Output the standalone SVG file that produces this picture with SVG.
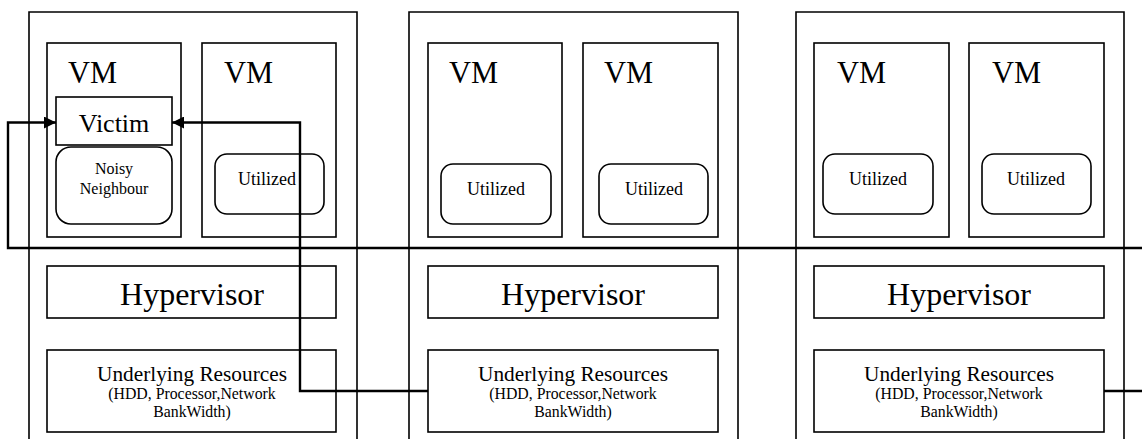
<svg xmlns="http://www.w3.org/2000/svg" width="1142" height="439" viewBox="0 0 1142 439">
<style>
.box{fill:none;stroke:#000;stroke-width:1.6}
.outer{fill:none;stroke:#000;stroke-width:1.6}
.rbox{fill:none;stroke:#000;stroke-width:1.6}
.conn{fill:none;stroke:#000;stroke-width:2.4}
text{font-family:"Liberation Serif","Times New Roman",serif;fill:#000}
.vm{font-size:30.5px}
.hyp{font-size:32px;text-anchor:middle}
.ur{font-size:21.3px;text-anchor:middle}
.urs{font-size:15.8px;text-anchor:middle}
.ut{font-size:18px;text-anchor:middle}
.vic{font-size:26px;text-anchor:middle}
.noisy{font-size:16px;text-anchor:middle}
</style>
<defs>
<marker id="ah" viewBox="0 0 10 10" refX="10" refY="5" markerWidth="15" markerHeight="12" markerUnits="userSpaceOnUse" orient="auto">
<path d="M0,0 L10,5 L0,10 z" fill="#000"/>
</marker>
</defs>
<rect width="1142" height="439" fill="#fff"/>

<g id="host1">
<path class="outer" d="M29,439 V12 H357 V439"/>
<g id="host1-vm1">
<rect class="box" x="47" y="43" width="134" height="194"/>
<text class="vm" x="68" y="83">VM</text>
</g>
<g id="host1-victim">
<rect class="box" x="56" y="97" width="116" height="48"/>
<text class="vic" x="114" y="132">Victim</text>
</g>
<g id="host1-noisy">
<rect class="rbox" x="56" y="147" width="116" height="77" rx="15"/>
<text class="noisy" x="114" y="174">Noisy</text>
<text class="noisy" x="114" y="194">Neighbour</text>
</g>
<g id="host1-vm2">
<rect class="box" x="202" y="43" width="134" height="194"/>
<text class="vm" x="224" y="83">VM</text>
<rect class="rbox" x="215" y="154" width="109" height="60" rx="12"/>
<text class="ut" x="267" y="185">Utilized</text>
</g>
<g id="host1-hyp">
<rect class="box" x="47" y="266" width="289" height="52"/>
<text class="hyp" x="192" y="305">Hypervisor</text>
</g>
<g id="host1-res">
<rect class="box" x="47" y="350" width="289" height="82"/>
<text class="ur" x="192" y="381">Underlying Resources</text>
<text class="urs" x="192" y="399">(HDD, Processor,Network</text>
<text class="urs" x="192" y="417">BankWidth)</text>
</g>
</g>

<g id="host2">
<path class="outer" d="M409,439 V12 H738 V439"/>
<g id="host2-vm1">
<rect class="box" x="428" y="43" width="134" height="194"/>
<text class="vm" x="449" y="83">VM</text>
<rect class="rbox" x="441" y="164" width="110" height="60" rx="12"/>
<text class="ut" x="496" y="195">Utilized</text>
</g>
<g id="host2-vm2">
<rect class="box" x="583" y="43" width="135" height="194"/>
<text class="vm" x="604" y="83">VM</text>
<rect class="rbox" x="599" y="164" width="109" height="60" rx="12"/>
<text class="ut" x="654" y="195">Utilized</text>
</g>
<g id="host2-hyp">
<rect class="box" x="428" y="266" width="290" height="52"/>
<text class="hyp" x="573" y="305">Hypervisor</text>
</g>
<g id="host2-res">
<rect class="box" x="428" y="350" width="290" height="82"/>
<text class="ur" x="573" y="381">Underlying Resources</text>
<text class="urs" x="573" y="399">(HDD, Processor,Network</text>
<text class="urs" x="573" y="417">BankWidth)</text>
</g>
</g>

<g id="host3">
<path class="outer" d="M796,439 V12 H1124 V439"/>
<g id="host3-vm1">
<rect class="box" x="814" y="43" width="135" height="194"/>
<text class="vm" x="837" y="83">VM</text>
<rect class="rbox" x="823" y="154" width="110" height="60" rx="12"/>
<text class="ut" x="878" y="185">Utilized</text>
</g>
<g id="host3-vm2">
<rect class="box" x="969" y="43" width="135" height="194"/>
<text class="vm" x="992" y="83">VM</text>
<rect class="rbox" x="982" y="154" width="109" height="60" rx="12"/>
<text class="ut" x="1036" y="185">Utilized</text>
</g>
<g id="host3-hyp">
<rect class="box" x="814" y="266" width="290" height="52"/>
<text class="hyp" x="959" y="305">Hypervisor</text>
</g>
<g id="host3-res">
<rect class="box" x="814" y="350" width="290" height="82"/>
<text class="ur" x="959" y="381">Underlying Resources</text>
<text class="urs" x="959" y="399">(HDD, Processor,Network</text>
<text class="urs" x="959" y="417">BankWidth)</text>
</g>
</g>

<g id="connectors">
<path class="conn" d="M1142,248 H8 V122.5 H56" marker-end="url(#ah)"/>
<path class="conn" d="M428,391 H300 V122.5 H172" marker-end="url(#ah)"/>
<path class="conn" d="M1104,391 H1142"/>
</g>
</svg>
